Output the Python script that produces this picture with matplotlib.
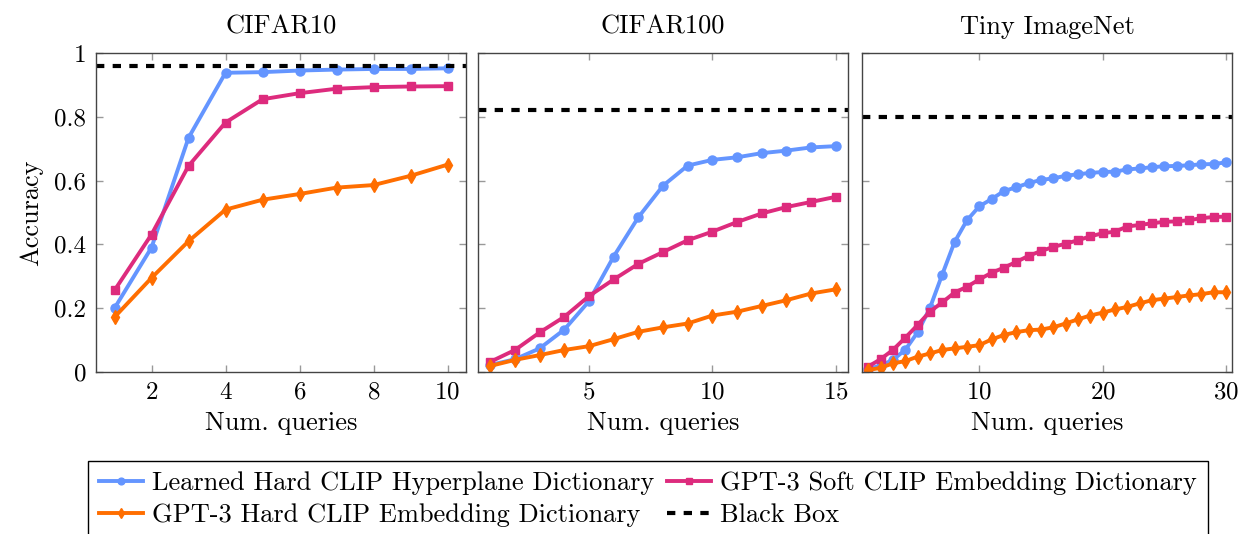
import matplotlib
matplotlib.use("Agg")
import matplotlib.pyplot as plt
import numpy as np

plt.rcParams['font.family'] = ['cmr10', 'DejaVu Serif']
plt.rcParams['mathtext.fontset'] = 'cm'
plt.rcParams['axes.formatter.use_mathtext'] = True
plt.rcParams['font.size'] = 18

# CIFAR10
c10_x = list(range(1, 11))
c10_learned = [0.20, 0.39, 0.734, 0.938, 0.94, 0.945, 0.948, 0.95, 0.95, 0.952]
c10_soft = [0.256, 0.431, 0.646, 0.782, 0.855, 0.874, 0.888, 0.893, 0.895, 0.896]
c10_hard = [0.172, 0.295, 0.41, 0.509, 0.54, 0.558, 0.578, 0.586, 0.615, 0.65]
c10_black = 0.96

# CIFAR100
c100_x = list(range(1, 16))
c100_learned = [0.022, 0.04, 0.074, 0.133, 0.222, 0.362, 0.485, 0.584, 0.647,
                0.665, 0.673, 0.686, 0.694, 0.704, 0.708]
c100_soft = [0.032, 0.069, 0.124, 0.173, 0.238, 0.29, 0.339, 0.376, 0.413,
             0.44, 0.47, 0.497, 0.517, 0.533, 0.549]
c100_hard = [0.019, 0.038, 0.053, 0.069, 0.081, 0.103, 0.126, 0.14, 0.152,
             0.177, 0.189, 0.207, 0.225, 0.246, 0.259]
c100_black = 0.82

# Tiny ImageNet
tin_x = list(range(1, 31))
tin_learned = [0.01, 0.02, 0.038, 0.069, 0.124, 0.2, 0.305, 0.407, 0.475, 0.519,
               0.542, 0.567, 0.579, 0.592, 0.602, 0.607, 0.615, 0.62, 0.624, 0.627,
               0.628, 0.635, 0.638, 0.642, 0.645, 0.646, 0.648, 0.651, 0.652, 0.657]
tin_soft = [0.017, 0.04, 0.069, 0.107, 0.147, 0.189, 0.218, 0.249, 0.267, 0.29,
            0.311, 0.327, 0.345, 0.364, 0.379, 0.392, 0.402, 0.413, 0.425, 0.435,
            0.44, 0.456, 0.461, 0.466, 0.471, 0.472, 0.476, 0.482, 0.486, 0.487]
tin_hard = [0.006, 0.013, 0.027, 0.034, 0.048, 0.058, 0.069, 0.074, 0.079, 0.084,
            0.102, 0.116, 0.125, 0.131, 0.133, 0.14, 0.152, 0.165, 0.177, 0.186,
            0.196, 0.204, 0.215, 0.225, 0.23, 0.235, 0.24, 0.244, 0.25, 0.25]
tin_black = 0.80

titles = ['CIFAR10', 'CIFAR100', 'Tiny ImageNet']
xticks = [[2, 4, 6, 8, 10], [5, 10, 15], [10, 20, 30]]
xlims = [(0.5, 10.5), (0.5, 15.5), (0.5, 30.5)]
yticks = [0, 0.2, 0.4, 0.6, 0.8, 1]
ytick_labels = ['0', '0.2', '0.4', '0.6', '0.8', '1']

series_labels = ['Learned Hard CLIP Hyperplane Dictionary',
                 'GPT-3 Soft CLIP Embedding Dictionary',
                 'GPT-3 Hard CLIP Embedding Dictionary']

blue = '#6495FF'
pink = '#DD2B7D'
orange = '#FF6E00'

panels = [
    (c10_x, c10_learned, c10_soft, c10_hard, c10_black),
    (c100_x, c100_learned, c100_soft, c100_hard, c100_black),
    (tin_x, tin_learned, tin_soft, tin_hard, tin_black),
]

W, H = 1247, 534
fig = plt.figure(figsize=(W / 100, H / 100), dpi=100)
lefts = [96, 478, 862]
top, bottom, width = 53, 372, 370

handles = None
for i, (x, learned, soft, hard, black) in enumerate(panels):
    ax = fig.add_axes([lefts[i] / W, 1 - bottom / H, width / W, (bottom - top) / H])
    h1, = ax.plot(x, learned, color=blue, lw=2.8, marker='o', ms=6.5,
                  label=series_labels[0])
    h2, = ax.plot(x, soft, color=pink, lw=2.8, marker='s', ms=6,
                  label=series_labels[1])
    h3, = ax.plot(x, hard, color=orange, lw=2.8, marker='d', ms=7,
                  label=series_labels[2])
    h4 = ax.axhline(black, color='black', lw=3, ls=(0, (2, 2)), label='Black Box')
    # legend fills column by column: row 1 = learned, soft; row 2 = hard, black box
    handles = [h1, h3, h2, h4]

    ax.set_xlim(*xlims[i])
    ax.set_ylim(0, 1)
    ax.set_xticks(xticks[i])
    ax.set_yticks(yticks)
    if i == 0:
        ax.set_yticklabels(ytick_labels)
        ax.set_ylabel('Accuracy', fontsize=19, labelpad=8)
    else:
        ax.set_yticklabels([])
    ax.set_title(titles[i], fontsize=19, pad=14)
    ax.set_xlabel('Num. queries', fontsize=19, labelpad=5)
    ax.tick_params(direction='in', top=True, right=True, length=5,
                   color='#999999', width=1, pad=7)
    for s in ax.spines.values():
        s.set_color('#444444')
        s.set_linewidth(1)

fig.legend(handles=handles, loc='upper left', ncol=2, fontsize=19,
           bbox_to_anchor=(88 / W, 1 - 461 / H), frameon=True, fancybox=False,
           edgecolor='black', framealpha=1, handlelength=1.7, handletextpad=0.34,
           columnspacing=0.45, borderpad=0.4, labelspacing=0.3, borderaxespad=0,
           markerscale=0.75)

fig.savefig('out.png', dpi=100)
